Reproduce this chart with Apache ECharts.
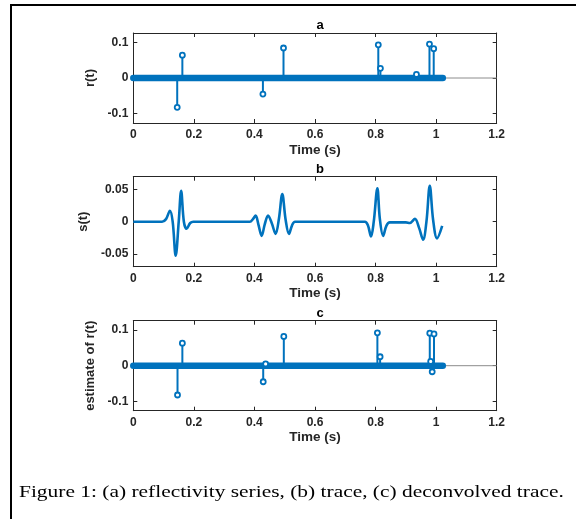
<!DOCTYPE html>
<html>
<head>
<meta charset="utf-8">
<script src="https://cdn.jsdelivr.net/npm/echarts@6/dist/echarts.min.js"></script>
<style>
html,body{margin:0;padding:0;background:#fff;}
#chart{width:576px;height:519px;}
</style>
</head>
<body>
<div id="chart"></div>
<script>
// ---- data ----
const xTicks = [0, 0.2, 0.4, 0.6, 0.8, 1, 1.2];
const yTicksA = [-0.1, 0, 0.1];
const yTicksB = [-0.05, 0, 0.05];
const yTicksC = [-0.1, 0, 0.1];

// (a) reflectivity series: non-zero spikes
const stemTimeA = [0.145, 0.162, 0.428, 0.496, 0.809, 0.816, 0.935, 0.978, 0.992];
const stemValA  = [-0.082, 0.064, -0.045, 0.084, 0.093, 0.027, 0.010, 0.095, 0.082];

// (c) deconvolved trace: non-zero spikes
const stemTimeC = [0.146, 0.162, 0.429, 0.437, 0.497, 0.806, 0.815, 0.979, 0.982, 0.987, 0.993];
const stemValC  = [-0.082, 0.063, -0.045, 0.005, 0.082, 0.092, 0.025, 0.091, 0.012, -0.017, 0.089];

// time span covered by the (zero-valued) samples of the stem plots
const sampleSpan = [0, 1.022];

// (b) trace s(t)
const traceTime = [0, 0.095, 0.108, 0.121, 0.130, 0.140, 0.150, 0.158, 0.167, 0.176, 0.188, 0.198,
  0.385, 0.395, 0.404, 0.413, 0.424, 0.434, 0.445, 0.457, 0.470, 0.481, 0.492, 0.503, 0.514, 0.524, 0.534,
  0.765, 0.775, 0.785, 0.794, 0.806, 0.814, 0.825, 0.836, 0.847, 0.900, 0.913, 0.930, 0.944, 0.957, 0.968,
  0.979, 0.990, 1.003, 1.020];
const traceVal = [0, 0, 0.004, 0.017, 0.000, -0.053, 0.000, 0.048, 0.000, -0.011, -0.002, 0,
  0, 0.004, 0.0095, -0.004, -0.022, -0.004, 0.0095, -0.002, -0.019, 0.005, 0.043, 0.003, -0.019, -0.006, 0,
  0, -0.006, -0.023, 0.000, 0.052, 0.005, -0.022, -0.006, -0.001, -0.001, -0.002, 0.0044, -0.010, -0.028, 0.000,
  0.056, 0.003, -0.026, -0.0066];

const titles = ['a', 'b', 'c'];
const yNames = ['r(t)', 's(t)', 'estimate of r(t)'];
const xName = 'Time (s)';
const caption = 'Figure 1: (a) reflectivity series, (b) trace, (c) deconvolved trace.';

// ---- layout ----
const BLUE = '#0072BD';
const AX = '#262626';
const plotLeft = 133.3, plotWidth = 363.4;
const plotTops = [33, 176.7, 320.7];
const plotH = 90;
const yRanges = [[-0.126, 0.126], [-0.07, 0.07], [-0.126, 0.126]];
const yTicks = [yTicksA, yTicksB, yTicksC];

const chart = echarts.init(document.getElementById('chart'), null, {renderer: 'canvas'});

const grids = [], xAxes = [], yAxes = [], titleOpts = [], series = [];
const axisFont = {fontFamily: 'Liberation Sans, Arial, sans-serif', fontWeight: 'bold', color: AX};

for (let i = 0; i < 3; i++) {
  grids.push({left: plotLeft, top: plotTops[i], width: plotWidth, height: plotH, containLabel: false});
  titleOpts.push({
    text: titles[i], left: plotLeft + plotWidth / 2, top: plotTops[i] - 19, textAlign: 'center',
    textStyle: {fontFamily: 'Liberation Sans, Arial, sans-serif', fontWeight: 'bold', fontSize: 13, color: '#000'}
  });
  const xBase = {
    type: 'value', gridIndex: i, min: 0, max: 1.2, interval: 0.2,
    axisLine: {show: true, onZero: false, lineStyle: {color: AX, width: 1}},
    splitLine: {show: false}
  };
  xAxes.push(Object.assign({}, xBase, {
    position: 'bottom',
    name: xName, nameLocation: 'middle', nameGap: 20,
    nameTextStyle: Object.assign({fontSize: 13.5}, axisFont),
    axisLabel: Object.assign({show: true, fontSize: 12, margin: 6, customValues: xTicks}, axisFont),
    axisTick: {show: true, inside: true, length: 4, lineStyle: {color: AX}, customValues: xTicks}
  }));
  xAxes.push(Object.assign({}, xBase, {position: 'top', axisLabel: {show: false},
    axisTick: {show: true, inside: true, length: 4, lineStyle: {color: AX}, customValues: xTicks}}));
  const yBase = {
    type: 'value', gridIndex: i, min: yRanges[i][0], max: yRanges[i][1],
    axisLine: {show: true, onZero: false, lineStyle: {color: AX, width: 1}},
    splitLine: {show: false}
  };
  yAxes.push(Object.assign({}, yBase, {
    position: 'left',
    name: yNames[i], nameLocation: 'middle', nameGap: 31, nameRotate: 90,
    nameTextStyle: Object.assign({fontSize: 13}, axisFont),
    axisLabel: Object.assign({show: true, fontSize: 12, margin: 5, customValues: yTicks[i]}, axisFont),
    axisTick: {show: true, inside: true, length: 4, lineStyle: {color: AX}, customValues: yTicks[i]}
  }));
  yAxes.push(Object.assign({}, yBase, {position: 'right', axisLabel: {show: false},
    axisTick: {show: true, inside: true, length: 4, lineStyle: {color: AX}, customValues: yTicks[i]}}));
}

function stemSeries(idx, times, vals) {
  const xi = idx * 2, yi = idx * 2;
  series.push({
    type: 'line', xAxisIndex: xi, yAxisIndex: yi, data: [[0, 0], [1.2, 0]],
    symbol: 'none', silent: true, lineStyle: {color: '#8c8c8c', width: 1}, z: 1
  });
  series.push({
    type: 'line', xAxisIndex: xi, yAxisIndex: yi, data: sampleSpan.map(t => [t, 0]),
    symbol: 'none', silent: true, lineStyle: {color: BLUE, width: 6.5, cap: 'round'}, z: 2
  });
  series.push({
    type: 'custom', xAxisIndex: xi, yAxisIndex: yi, z: 3,
    data: times.map((t, k) => [t, vals[k]]),
    renderItem: function (params, api) {
      const p0 = api.coord([api.value(0), 0]);
      const p1 = api.coord([api.value(0), api.value(1)]);
      return {
        type: 'group',
        children: [
          {type: 'line', shape: {x1: p0[0], y1: p0[1], x2: p1[0], y2: p1[1]},
           style: {stroke: BLUE, lineWidth: 2}},
          {type: 'circle', shape: {cx: p1[0], cy: p1[1], r: 2.5},
           style: {stroke: BLUE, lineWidth: 1.8, fill: '#fff'}}
        ]
      };
    }
  });
}

stemSeries(0, stemTimeA, stemValA);
series.push({
  type: 'line', xAxisIndex: 2, yAxisIndex: 2,
  data: traceTime.map((t, k) => [t, traceVal[k]]),
  symbol: 'none', smooth: 0.35, lineStyle: {color: BLUE, width: 2.6}
});
stemSeries(2, stemTimeC, stemValC);

chart.setOption({
  animation: false,
  backgroundColor: '#fff',
  title: titleOpts,
  grid: grids,
  xAxis: xAxes,
  yAxis: yAxes,
  series: series,
  graphic: [
    {type: 'rect', shape: {x: 11, y: 5, width: 700, height: 700},
     style: {fill: 'none', stroke: '#000', lineWidth: 2}, silent: true},
    {type: 'text', x: 19, y: 492.5, scaleX: 1.26, originX: 0, originY: 0,
     style: {text: caption, font: '17px "Liberation Serif", "Times New Roman", serif',
             fill: '#000', textVerticalAlign: 'middle', textAlign: 'left'}}
  ]
});
</script>
</body>
</html>
